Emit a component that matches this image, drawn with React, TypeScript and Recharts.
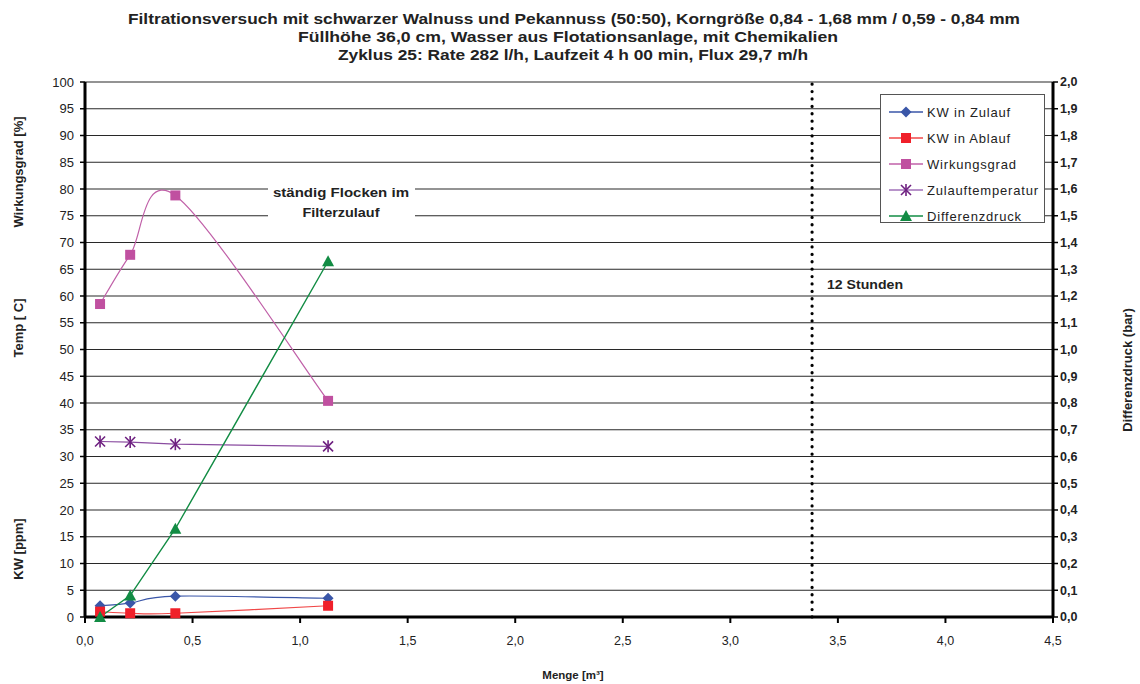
import React from 'react'
import { ComposedChart, Line, XAxis, YAxis, CartesianGrid, ReferenceLine } from 'recharts'

// Menge [m³] per measurement
const menge = [0.07, 0.21, 0.42, 1.13]
const kwZulauf = [2.1, 2.6, 3.9, 3.5]
const kwAblauf = [1.0, 0.7, 0.7, 2.1]
const wirkungsgrad = [58.5, 67.7, 78.8, 40.4]
const zulauftemperatur = [32.8, 32.7, 32.3, 31.9]
const differenzdruck = [0.0, 0.08, 0.33, 1.33]

const xTicks = [0, 0.5, 1, 1.5, 2, 2.5, 3, 3.5, 4, 4.5]
const leftTicks = [0, 5, 10, 15, 20, 25, 30, 35, 40, 45, 50, 55, 60, 65, 70, 75, 80, 85, 90, 95, 100]
const rightTicks = [0, 0.1, 0.2, 0.3, 0.4, 0.5, 0.6, 0.7, 0.8, 0.9, 1, 1.1, 1.2, 1.3, 1.4, 1.5, 1.6, 1.7, 1.8, 1.9, 2]
const zwoelfStunden = 3.38

const titleLines = [
  'Filtrationsversuch mit schwarzer Walnuss und Pekannuss (50:50), Korngröße 0,84 - 1,68 mm / 0,59 - 0,84 mm',
  'Füllhöhe 36,0 cm, Wasser aus Flotationsanlage, mit Chemikalien',
  'Zyklus 25: Rate 282 l/h, Laufzeit 4 h 00 min, Flux 29,7 m/h',
]

const data = menge.map((m, i) => ({
  menge: m,
  kwZulauf: kwZulauf[i],
  kwAblauf: kwAblauf[i],
  wirkungsgrad: wirkungsgrad[i],
  temp: zulauftemperatur[i],
  dp: differenzdruck[i],
}))

const FONT = '"Liberation Sans", Arial, sans-serif'
const comma = (v: number) => v.toFixed(1).replace('.', ',')

// Excel-like smoothed line (Catmull-Rom through points)
function excelSmooth(context: any) {
  let pts: number[][] = []
  return {
    areaStart() {},
    areaEnd() {},
    lineStart() { pts = [] },
    lineEnd() {
      if (!pts.length) return
      context.moveTo(pts[0][0], pts[0][1])
      for (let i = 0; i < pts.length - 1; i++) {
        const p0 = pts[Math.max(0, i - 1)]
        const p1 = pts[i]
        const p2 = pts[i + 1]
        const p3 = pts[Math.min(pts.length - 1, i + 2)]
        context.bezierCurveTo(
          p1[0] + (p2[0] - p0[0]) / 6, p1[1] + (p2[1] - p0[1]) / 6,
          p2[0] - (p3[0] - p1[0]) / 6, p2[1] - (p3[1] - p1[1]) / 6,
          p2[0], p2[1]
        )
      }
    },
    point(x: number, y: number) { pts.push([+x, +y]) },
  }
}

const Diamond = ({ cx, cy, fill }: any) => (
  <path d={`M${cx},${cy - 5.5}L${cx + 5.5},${cy}L${cx},${cy + 5.5}L${cx - 5.5},${cy}Z`} fill={fill} />
)
const Square = ({ cx, cy, fill, s = 5 }: any) => (
  <rect x={cx - s} y={cy - s} width={s * 2} height={s * 2} fill={fill} />
)
const Star = ({ cx, cy, fill }: any) => (
  <g stroke={fill} strokeWidth={1.6}>
    <line x1={cx - 5} y1={cy - 5} x2={cx + 5} y2={cy + 5} />
    <line x1={cx - 5} y1={cy + 5} x2={cx + 5} y2={cy - 5} />
    <line x1={cx} y1={cy - 6} x2={cx} y2={cy + 6} />
  </g>
)
const Triangle = ({ cx, cy, fill }: any) => (
  <path d={`M${cx},${cy - 6}L${cx + 6},${cy + 5}L${cx - 6},${cy + 5}Z`} fill={fill} />
)

const series = [
  { name: 'KW in Zulauf', color: '#3A56A8', line: '#3A56A8', Marker: Diamond },
  { name: 'KW in Ablauf', color: '#F0202A', line: '#F04848', Marker: Square },
  { name: 'Wirkungsgrad', color: '#C050A0', line: '#C060A8', Marker: Square },
  { name: 'Zulauftemperatur', color: '#6E2080', line: '#A070B8', Marker: Star },
  { name: 'Differenzdruck', color: '#128C44', line: '#128C44', Marker: Triangle },
]

const dotFor = (Marker: any, fill: string) => (p: any) =>
  p.cx == null ? <g key={p.index} /> : <Marker key={p.index} cx={p.cx} cy={p.cy} fill={fill} />

export default function App() {
  return (
    <div style={{ position: 'absolute', left: 0, top: 0, width: 1140, height: 684, background: '#fff', fontFamily: FONT }}>
      <ComposedChart
        width={1140}
        height={684}
        data={data}
        margin={{ top: 82, right: 0, bottom: 0, left: 0 }}
      >
        <CartesianGrid yAxisId="left" vertical={false} stroke="#111" strokeOpacity={0.9} />
        <XAxis
          dataKey="menge"
          type="number"
          domain={[0, 4.5]}
          ticks={xTicks}
          tickFormatter={comma}
          height={67}
          axisLine={{ stroke: '#000', strokeWidth: 3 }}
          tickLine={{ stroke: '#000', strokeWidth: 2 }}
          tickSize={6}
          tick={{ fontSize: 12.5, fill: '#222', fontFamily: FONT, dy: 11 }}
        />
        <YAxis
          yAxisId="left"
          domain={[0, 100]}
          ticks={leftTicks}
          interval={0}
          width={85}
          axisLine={{ stroke: '#000', strokeWidth: 3 }}
          tickLine={{ stroke: '#000', strokeWidth: 1.5 }}
          tickSize={5}
          tick={{ fontSize: 13, fill: '#222', fontFamily: FONT, dx: -4 }}
        />
        <YAxis
          yAxisId="right"
          orientation="right"
          domain={[0, 2]}
          ticks={rightTicks}
          interval={0}
          tickFormatter={comma}
          width={87}
          axisLine={{ stroke: '#000', strokeWidth: 3 }}
          tickLine={{ stroke: '#000', strokeWidth: 1.5 }}
          tickSize={5}
          tick={{ fontSize: 12.5, fill: '#222', fontWeight: 'bold', fontFamily: FONT }}
        />
        <ReferenceLine
          yAxisId="left"
          x={zwoelfStunden}
          stroke="#000"
          strokeWidth={3.2}
          strokeDasharray="0.1 7.3"
          strokeLinecap="round"
        />
        <Line yAxisId="left" dataKey="kwZulauf" type={excelSmooth as any} stroke={series[0].line} strokeWidth={1.2}
          dot={dotFor(Diamond, series[0].color)} isAnimationActive={false} />
        <Line yAxisId="left" dataKey="kwAblauf" type={excelSmooth as any} stroke={series[1].line} strokeWidth={1.2}
          dot={dotFor(Square, series[1].color)} isAnimationActive={false} />
        <Line yAxisId="left" dataKey="wirkungsgrad" type={excelSmooth as any} stroke={series[2].line} strokeWidth={1.2}
          dot={dotFor(Square, series[2].color)} isAnimationActive={false} />
        <Line yAxisId="left" dataKey="temp" type="linear" stroke="#8A4CA0" strokeWidth={1.2}
          dot={dotFor(Star, series[3].color)} isAnimationActive={false} />
        <Line yAxisId="right" dataKey="dp" type="linear" stroke={series[4].line} strokeWidth={1.4}
          dot={dotFor(Triangle, series[4].color)} isAnimationActive={false} />
      </ComposedChart>

      {/* annotation backgrounds */}
      <div style={{ position: 'absolute', left: 268, top: 174, width: 147, height: 48, background: '#fff' }} />
      <div style={{ position: 'absolute', left: 824, top: 277, width: 82, height: 15, background: '#fff' }} />

      {/* legend */}
      <div style={{ position: 'absolute', left: 880, top: 94, width: 165, height: 129, boxSizing: 'border-box', border: '1px solid #555', background: '#fff', paddingTop: 4 }}>
        {series.map((s) => (
          <div key={s.name} style={{ display: 'flex', alignItems: 'center', height: 26, fontSize: 13, letterSpacing: 0.8, color: '#222' }}>
            <svg width={40} height={16} style={{ marginLeft: 6 }}>
              <line x1={2} y1={8} x2={36} y2={8} stroke={s.line} strokeWidth={1.4} />
              <s.Marker cx={19} cy={8} fill={s.color} />
            </svg>
            <span>{s.name}</span>
          </div>
        ))}
      </div>

      {/* texts */}
      <svg width={1140} height={684} style={{ position: 'absolute', left: 0, top: 0, pointerEvents: 'none' }}>
        <g fontFamily={FONT} fontWeight="bold" fill="#222" textAnchor="middle">
          <text x={574} y={24} fontSize={15} textLength={892} lengthAdjust="spacingAndGlyphs">{titleLines[0]}</text>
          <text x={568} y={42} fontSize={15} textLength={540} lengthAdjust="spacingAndGlyphs">{titleLines[1]}</text>
          <text x={573} y={60} fontSize={15} textLength={470} lengthAdjust="spacingAndGlyphs">{titleLines[2]}</text>

          <text x={341} y={197} fontSize={13.5} textLength={136} lengthAdjust="spacingAndGlyphs">ständig Flocken im</text>
          <text x={341} y={217} fontSize={13.5} textLength={77} lengthAdjust="spacingAndGlyphs">Filterzulauf</text>
          <text x={865} y={289} fontSize={13.5} textLength={76} lengthAdjust="spacingAndGlyphs">12 Stunden</text>

          <text transform="translate(23,172) rotate(-90)" fontSize={13}>Wirkungsgrad [%]</text>
          <text transform="translate(23,328) rotate(-90)" fontSize={13}>Temp [ C]</text>
          <text transform="translate(23,549) rotate(-90)" fontSize={13}>KW [ppm]</text>
          <text transform="translate(1132,370) rotate(-90)" fontSize={13}>Differenzdruck (bar)</text>
          <text x={573} y={679} fontSize={11.5}>Menge [m³]</text>
        </g>
      </svg>
    </div>
  )
}
